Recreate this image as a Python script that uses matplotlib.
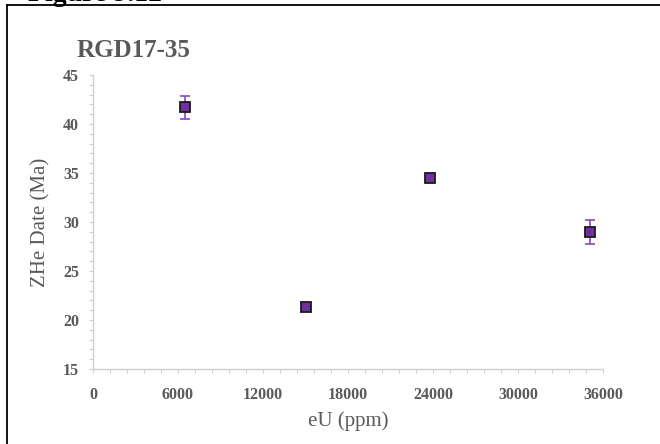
import matplotlib
matplotlib.use("Agg")
import matplotlib.pyplot as plt
from matplotlib.lines import Line2D
from matplotlib.ticker import MultipleLocator

# Sample RGD17-35: effective uranium vs zircon (U-Th)/He date
eu_ppm = [6500, 15000, 23800, 35100]
zhe_date = [41.7, 21.3, 34.5, 29.0]
date_err = [1.2, 0.3, 0.3, 1.2]
x_ticks = [0, 6000, 12000, 18000, 24000, 30000, 36000]
y_ticks = [15, 20, 25, 30, 35, 40, 45]

W, H = 660, 444
fig = plt.figure(figsize=(W / 100, H / 100), dpi=100)
fig.patch.set_facecolor("white")

serif = ["Liberation Serif", "DejaVu Serif"]
gray = "#595959"

# Frame around the figure panel
fig.add_artist(Line2D([7 / W, 7 / W], [0, 1 - 5 / H], transform=fig.transFigure,
                      color="black", lw=1.3))
fig.add_artist(Line2D([7 / W, 1], [1 - 5 / H, 1 - 5 / H], transform=fig.transFigure,
                      color="black", lw=1.3))
# Caption partly above the panel
fig.text(28 / W, 1 - 0.7 / H, "Figure 9.12", family=serif, weight="bold",
         fontsize=20, color="black", ha="left", va="baseline")

ax = fig.add_axes([93 / W, 1 - 369 / H, 510 / W, 294 / H])
ax.set_xlim(x_ticks[0], x_ticks[-1])
ax.set_ylim(y_ticks[0], y_ticks[-1])

ax.errorbar(eu_ppm, zhe_date, yerr=date_err, fmt="none", ecolor="#8848c0",
            elinewidth=1.2, capsize=3.5, capthick=1.2, zorder=2)
ax.plot(eu_ppm, zhe_date, linestyle="none", marker="s", markersize=7.5,
        markerfacecolor="#7030a0", markeredgecolor="#1a1a1a",
        markeredgewidth=1.3, zorder=3)

ax.set_xticks(x_ticks)
ax.set_yticks(y_ticks)
ax.xaxis.set_minor_locator(MultipleLocator(1200))
ax.yaxis.set_minor_locator(MultipleLocator(1))
for s in ["top", "right"]:
    ax.spines[s].set_visible(False)
for s in ["left", "bottom"]:
    ax.spines[s].set_color("#d0d0d0")
    ax.spines[s].set_linewidth(1.0)
ax.tick_params(which="both", direction="out", length=3, width=0.8,
               color="#d0d0d0", labelcolor=gray)
ax.tick_params(axis="x", pad=10)
ax.tick_params(axis="y", pad=7)
for lab in ax.get_xticklabels() + ax.get_yticklabels():
    lab.set_family(serif)
    lab.set_fontweight("bold")
    lab.set_fontsize(11.5)

ax.set_xlabel("eU (ppm)", family=serif, fontsize=15, color=gray, labelpad=6)
ax.set_ylabel("ZHe Date (Ma)", family=serif, fontsize=15, color=gray, labelpad=9)
fig.text(77 / W, 1 - 57 / H, "RGD17-35", family=serif, weight="bold",
         fontsize=18, color=gray, ha="left", va="baseline")

fig.savefig("out.png", dpi=100, facecolor="white")
